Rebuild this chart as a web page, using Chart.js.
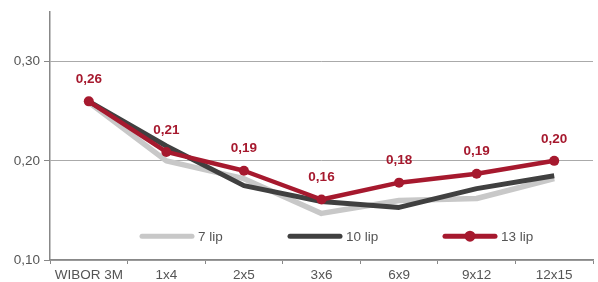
<!DOCTYPE html>
<html><head><meta charset="utf-8">
<script src="https://cdn.jsdelivr.net/npm/chart.js@4"></script>
<style>html,body{margin:0;padding:0;background:#fff}#c{display:block}</style>
</head><body>
<div style="width:598px;height:282px"><canvas id="c" width="598" height="282"></canvas></div>
<script>
const categories = ['WIBOR 3M','1x4','2x5','3x6','6x9','9x12','12x15'];
const lip7  = [0.259, 0.200, 0.182, 0.147, 0.160, 0.162, 0.182];
const lip10 = [0.260, 0.215, 0.175, 0.159, 0.153, 0.172, 0.185];
const lip13 = [0.260, 0.209, 0.190, 0.161, 0.178, 0.187, 0.200];
const lip13Labels = ['0,26','0,21','0,19','0,16','0,18','0,19','0,20'];
const yTicks = [0.10, 0.20, 0.30];
const seriesNames = ['7 lip','10 lip','13 lip'];

const RED = '#a6192e', DARK = '#404040', LIGHT = '#c8c8c8';
const FONT = '"Liberation Sans", Arial, sans-serif';

const labelPlugin = {
  id: 'lbl',
  afterDatasetsDraw(chart) {
    const ctx = chart.ctx;
    const meta = chart.getDatasetMeta(2);
    ctx.save();
    ctx.fillStyle = RED;
    ctx.font = 'bold 13.5px ' + FONT;
    ctx.textAlign = 'center';
    ctx.textBaseline = 'middle';
    meta.data.forEach((p, i) => {
      ctx.fillText(lip13Labels[i], p.x, p.y - 22);
    });
    ctx.restore();
  }
};

const legendPlugin = {
  id: 'customLegend',
  afterDraw(chart) {
    const ctx = chart.ctx;
    const y = chart.scales.y.getPixelForValue(0.124);
    const items = [
      {x: 140, color: LIGHT, marker: false},
      {x: 288, color: DARK, marker: false},
      {x: 443, color: RED, marker: true}
    ];
    ctx.save();
    items.forEach((it, i) => {
      ctx.strokeStyle = it.color;
      ctx.lineWidth = 5;
      ctx.lineCap = 'round';
      ctx.beginPath();
      ctx.moveTo(it.x + 2, y);
      ctx.lineTo(it.x + 52, y);
      ctx.stroke();
      if (it.marker) {
        ctx.fillStyle = it.color;
        ctx.beginPath();
        ctx.arc(it.x + 27, y, 5.5, 0, Math.PI * 2);
        ctx.fill();
      }
      ctx.fillStyle = '#555';
      ctx.font = '13.5px ' + FONT;
      ctx.textAlign = 'left';
      ctx.textBaseline = 'middle';
      ctx.fillText(seriesNames[i], it.x + 58, y + 1);
    });
    ctx.restore();
  }
};

new Chart(document.getElementById('c'), {
  type: 'line',
  data: {
    labels: categories,
    datasets: [
      {label: seriesNames[0], data: lip7, borderColor: LIGHT, borderWidth: 5.5, pointRadius: 0, tension: 0, order: 2, borderJoinStyle: 'round'},
      {label: seriesNames[1], data: lip10, borderColor: DARK, borderWidth: 5, pointRadius: 0, tension: 0, order: 1, borderJoinStyle: 'round'},
      {label: seriesNames[2], data: lip13, borderColor: RED, backgroundColor: RED, borderWidth: 4.5, pointRadius: 5, pointBorderWidth: 0, pointBackgroundColor: RED, tension: 0, order: 0, borderJoinStyle: 'round'}
    ]
  },
  options: {
    responsive: false,
    animation: false,
    events: [],
    layout: {padding: {top: 12, right: 0, left: 0, bottom: 0}},
    plugins: {legend: {display: false}, tooltip: {enabled: false}},
    scales: {
      x: {
        offset: true,
        grid: {offset: true, drawOnChartArea: false, drawTicks: true, tickLength: 4, color: '#888'},
        border: {display: true, color: '#888', width: 1.5},
        ticks: {color: '#555', font: {family: FONT, size: 13.5}, padding: 3, maxRotation: 0, autoSkip: false},
        afterFit(s) { s.height = 22; }
      },
      y: {
        min: 0.10, max: 0.35,
        afterBuildTicks(s) { s.ticks = yTicks.map(v => ({value: v})); },
        grid: {color: '#aaa', lineWidth: 1, tickLength: 6, drawTicks: true, tickColor: '#888'},
        border: {display: true, color: '#888', width: 1.5},
        ticks: {color: '#555', font: {family: FONT, size: 13.5}, padding: 4,
          callback: v => v.toFixed(2).replace('.', ',')},
        afterFit(s) { s.width = 50; }
      }
    }
  },
  plugins: [labelPlugin, legendPlugin]
});
</script>
</body></html>
